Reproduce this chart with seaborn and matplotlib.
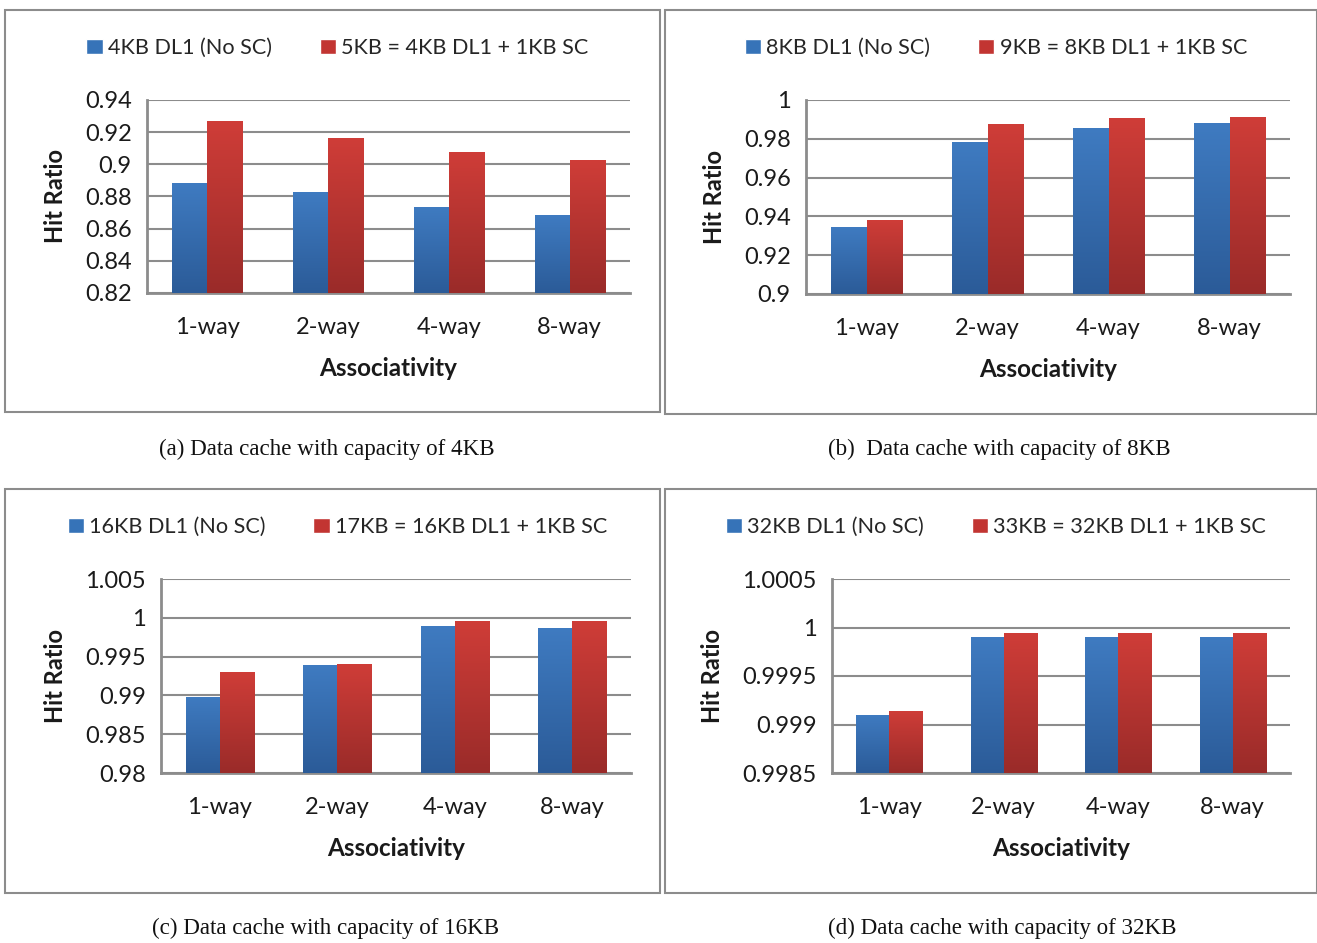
import numpy as np
import pandas as pd
import seaborn as sns
import matplotlib.pyplot as plt
from matplotlib.colors import LinearSegmentedColormap
from matplotlib.patches import Rectangle, Patch

# data
ways = ['1-way', '2-way', '4-way', '8-way']

base_a = [0.8882, 0.8826, 0.8732, 0.8682]
sc_a = [0.9269, 0.9163, 0.9075, 0.9025]
base_b = [0.9343, 0.9783, 0.9855, 0.9881]
sc_b = [0.9384, 0.9876, 0.9907, 0.9912]
base_c = [0.9898, 0.9939, 0.9990, 0.9987]
sc_c = [0.9930, 0.9940, 0.9996, 0.9996]
base_d = [0.99910, 0.99990, 0.99990, 0.99990]
sc_d = [0.99914, 0.99994, 0.99994, 0.99994]

labels_a = ['4KB DL1 (No SC)', '5KB = 4KB DL1 + 1KB SC']
labels_b = ['8KB DL1 (No SC)', '9KB = 8KB DL1 + 1KB SC']
labels_c = ['16KB DL1 (No SC)', '17KB = 16KB DL1 + 1KB SC']
labels_d = ['32KB DL1 (No SC)', '33KB = 32KB DL1 + 1KB SC']

ticks_a = [0.82, 0.84, 0.86, 0.88, 0.90, 0.92, 0.94]
ticks_b = [0.90, 0.92, 0.94, 0.96, 0.98, 1.0]
ticks_c = [0.98, 0.985, 0.99, 0.995, 1.0, 1.005]
ticks_d = [0.9985, 0.999, 0.9995, 1.0, 1.0005]

captions = ['(a) Data cache with capacity of 4KB',
            '(b)  Data cache with capacity of 8KB',
            '(c) Data cache with capacity of 16KB',
            '(d) Data cache with capacity of 32KB']

sns.set_style('white')
plt.rcParams['font.family'] = ['Lato', 'DejaVu Sans']

W, H = 1317, 943
fig = plt.figure(figsize=(W / 100, H / 100), dpi=100)

blue_cm = LinearSegmentedColormap.from_list('b', ['#2b5b98', '#3f7bc1'])
red_cm = LinearSegmentedColormap.from_list('r', ['#9a2b29', '#cf3d38'])
gray = '#8c8c8c'
txt = '#1a1a1a'

panels = [
    (base_a, sc_a, labels_a, ticks_a, (147, 630, 100, 293), (5, 660, 10, 412), (327, 449)),
    (base_b, sc_b, labels_b, ticks_b, (806, 1290, 100, 294), (665, 1317, 10, 414), (999, 449)),
    (base_c, sc_c, labels_c, ticks_c, (161, 631, 579, 773), (5, 660, 489, 893), (326, 928)),
    (base_d, sc_d, labels_d, ticks_d, (832, 1290, 579, 773), (665, 1317, 489, 893), (1002, 928)),
]

for i, (base, sc, labs, ticks, ax_px, box_px, cap_xy) in enumerate(panels):
    # outer frame
    bx0, bx1, by0, by1 = box_px
    fig.patches.append(Rectangle((bx0 / W, 1 - by1 / H), (bx1 - bx0) / W, (by1 - by0) / H,
                                 transform=fig.transFigure, fill=False,
                                 edgecolor=gray, linewidth=1.5))
    fig.text(cap_xy[0] / W, 1 - cap_xy[1] / H, captions[i], ha='center', va='center',
             fontsize=16.6, family=['Liberation Serif'], color='#111111')

    x0, x1, y0, y1 = ax_px
    ax = fig.add_axes([x0 / W, 1 - y1 / H, (x1 - x0) / W, (y1 - y0) / H])

    df = pd.DataFrame({
        'Associativity': ways * 2,
        'series': [labs[0]] * 4 + [labs[1]] * 4,
        'Hit Ratio': base + sc,
    })
    sns.barplot(data=df, x='Associativity', y='Hit Ratio', hue='series',
                palette=['#3f7bc1', '#cf3d38'], width=0.58, gap=0,
                legend=False, ax=ax, zorder=3)

    lo, hi = ticks[0], ticks[-1]

    # gradient fill for each bar
    grad = np.linspace(0, 1, 256).reshape(-1, 1)
    for j, p in enumerate(ax.patches[:8]):
        cm = blue_cm if j < 4 else red_cm
        bx = p.get_x()
        bw = p.get_width()
        top = p.get_height()
        im = ax.imshow(grad, cmap=cm, origin='lower', aspect='auto',
                       extent=[bx, bx + bw, lo, top], zorder=3)
        im.set_clip_path(p)
        p.set_facecolor('none')
        p.set_edgecolor('none')
    ax.set_ylim(lo, hi)
    ax.set_xlim(-0.5, 3.5)

    ax.set_yticks(ticks)
    ax.set_yticklabels(['{:g}'.format(round(t, 5)) for t in ticks])
    ax.set_xticks(range(4))
    ax.set_xticklabels(ways)
    ax.set_xticks([-0.5, 0.5, 1.5, 2.5, 3.5], minor=True)
    ax.tick_params(axis='x', which='major', length=0, pad=17, labelsize=17, colors=txt)
    ax.tick_params(axis='x', which='minor', length=6, width=1.5, color=gray, direction='out')
    ax.tick_params(axis='y', length=6, width=1.5, color=gray, direction='out',
                   labelsize=17, labelcolor=txt, pad=5)

    ax.grid(axis='y', color=gray, linewidth=1.5, zorder=0)
    ax.grid(axis='x', visible=False)
    for s in ['top', 'right']:
        ax.spines[s].set_visible(False)
    for s in ['left', 'bottom']:
        ax.spines[s].set_color(gray)
        ax.spines[s].set_linewidth(2)

    ax.set_xlabel('Associativity', fontsize=17.5, fontweight='bold', labelpad=14, color=txt)
    ax.set_ylabel('Hit Ratio', fontsize=17, fontweight='bold', labelpad=13, color=txt)

    handles = [Patch(facecolor='#3673b8'), Patch(facecolor='#c23532')]
    fig.legend(handles, labs, loc='center', ncol=2, frameon=False,
               bbox_to_anchor=((bx0 + bx1) / 2 / W + 5 / W, 1 - (by0 + 38) / H),
               fontsize=15.6, handlelength=0.75, handleheight=0.75,
               handletextpad=0.25, columnspacing=2.2)

fig.savefig('out.png', dpi=100)
